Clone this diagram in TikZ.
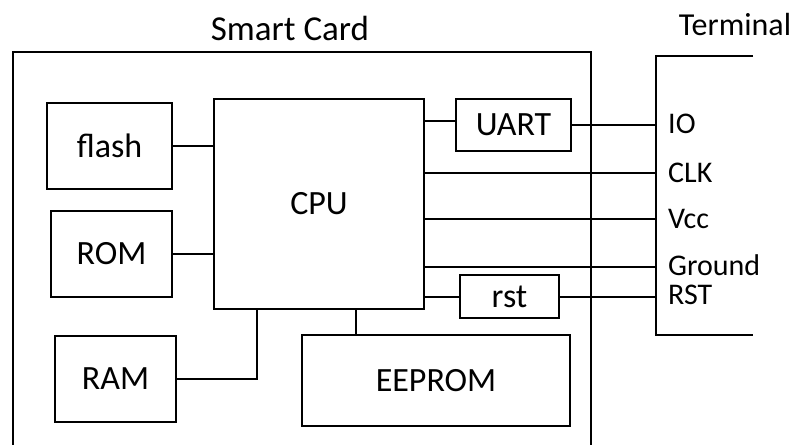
\documentclass[tikz,border=0pt]{standalone}
\usepackage{fontspec}
\setmainfont{Carlito}
\tikzset{
  wire/.style={line width=2pt},
  chip/.style={draw, line width=2pt, inner sep=0pt, font=\fontsize{34}{40}\selectfont},
  pinname/.style={anchor=west, inner sep=0pt, font=\fontsize{30}{35}\selectfont}
}
\begin{document}
\begin{tikzpicture}[x=1pt,y=-1pt]
  \clip (0,0) rectangle (805,444);
  \node[font=\fontsize{35}{40}\selectfont] (card) at (290,28) {Smart Card};
  \node[font=\fontsize{32}{38}\selectfont] (terminal) at (735,25) {Terminal};
  \draw[wire] (13,470) -- (13,52) -- (591,52) -- (591,470);
  \draw[wire] (753,56) -- (656,56) coordinate (T) -- (656,335) -- (753,335);
  \node[chip, minimum width=125pt, minimum height=86pt] (flash) at (109.5,146) {flash};
  \node[chip, minimum width=121pt, minimum height=86pt] (rom) at (111.5,254) {ROM};
  \node[chip, minimum width=121pt, minimum height=86pt] (ram) at (115.5,379) {RAM};
  \node[chip, minimum width=210pt, minimum height=210pt] (cpu) at (319,204) {CPU};
  \node[chip, minimum width=268pt, minimum height=91pt] (eeprom) at (436,380.5) {EEPROM};
  \node[chip, minimum width=115pt, minimum height=52pt] (uart) at (513.5,125) {UART};
  \node[chip, minimum width=99pt, minimum height=43pt] (rst) at (509.5,296.5) {rst};
  \node[pinname] (io) at (668,124) {IO};
  \node[pinname] (clk) at (668,173) {CLK};
  \node[pinname] (vcc) at (668,219) {Vcc};
  \node[pinname] (gnd) at (668,265) {Ground};
  \node[pinname] (rstpin) at (668,295) {RST};
  \draw[wire] (flash.east) -- (flash.east -| cpu.west);
  \draw[wire] (rom.east) -- (rom.east -| cpu.west);
  \draw[wire] (ram.east) -| (257,0 |- cpu.south);
  \draw[wire] (356,0 |- cpu.south) -- (356,0 |- eeprom.north);
  \draw[wire] (cpu.east |- 0,121) -- (uart.west |- 0,121);
  \draw[wire] (uart.east) -- (uart.east -| T);
  \draw[wire] (cpu.east |- clk.west) -- (clk.west -| T);
  \draw[wire] (cpu.east |- vcc.west) -- (vcc.west -| T);
  \draw[wire] (cpu.east |- 0,267) -- (T |- 0,267);
  \draw[wire] (cpu.east |- rst.west) -- (rst.west);
  \draw[wire] (rst.east) -- (rst.east -| T);
\end{tikzpicture}
\end{document}
